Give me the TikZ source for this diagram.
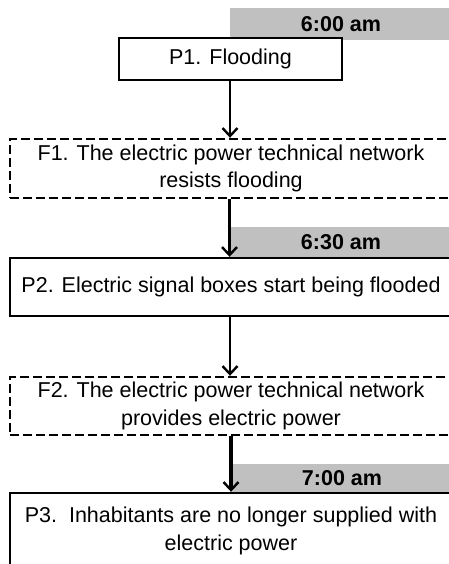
\documentclass[tikz,border=0pt]{standalone}
\usepackage{fontspec}
\setmainfont{Liberation Sans}
\usetikzlibrary{arrows.meta}
\definecolor{barfill}{HTML}{C0C0C0}
\tikzset{
  box/.style={draw=black, line width=2.4pt, fill=white, inner sep=0pt, align=center,
    font=\fontsize{21.5}{27.5}\selectfont},
  dbox/.style={box, dash pattern=on 9pt off 4pt},
  bar/.style={fill=barfill, inner sep=0pt, font=\fontsize{21.5}{26}\selectfont\bfseries},
  conn/.style={line width=2.4pt, -{Straight Barb[length=8pt,width=15pt,line width=2.4pt]}},
}
\begin{document}
\begin{tikzpicture}[x=1pt,y=-1pt]
\useasboundingbox (0,0) rectangle (449,564);
\clip (0,0) rectangle (449,564);
\fill[white] (0,0) rectangle (449,564);
% time bars
\node[bar, minimum width=222pt, minimum height=32pt] (t1) at (341,24) {6:00 am};
\node[bar, minimum width=222pt, minimum height=31pt] (t2) at (341,242.5) {6:30 am};
\node[bar, minimum width=220pt, minimum height=29pt] (t3) at (342,478.5) {7:00 am};
% boxes
\node[box, minimum width=223pt, minimum height=42pt] (p1) at (230.5,59) {P1. Flooding};
\node[dbox, minimum width=442pt, minimum height=59pt] (f1) at (231,168.5)
  {F1. The electric power technical network\\resists flooding};
\node[box, minimum width=442pt, minimum height=58pt] (p2) at (231,287)
  {P2. Electric signal boxes start being flooded};
\node[dbox, minimum width=442pt, minimum height=58pt] (f2) at (231,406)
  {F2. The electric power technical network\\provides electric power};
\node[box, minimum width=442pt, minimum height=76pt] (p3) at (231,531)
  {P3.\ \ Inhabitants are no longer supplied with\\electric power};
% connectors
\draw[conn] (p1.south -| 230,0) -- (f1.north -| 230,0);
\draw[conn] (f1.south -| 229.5,0) -- (p2.north -| 229.5,0);
\draw[conn] (p2.south -| 230,0) -- (f2.north -| 230,0);
\draw[conn, line width=3.4pt] (f2.south -| 231,0) -- (p3.north -| 231,0);
\end{tikzpicture}
\end{document}
